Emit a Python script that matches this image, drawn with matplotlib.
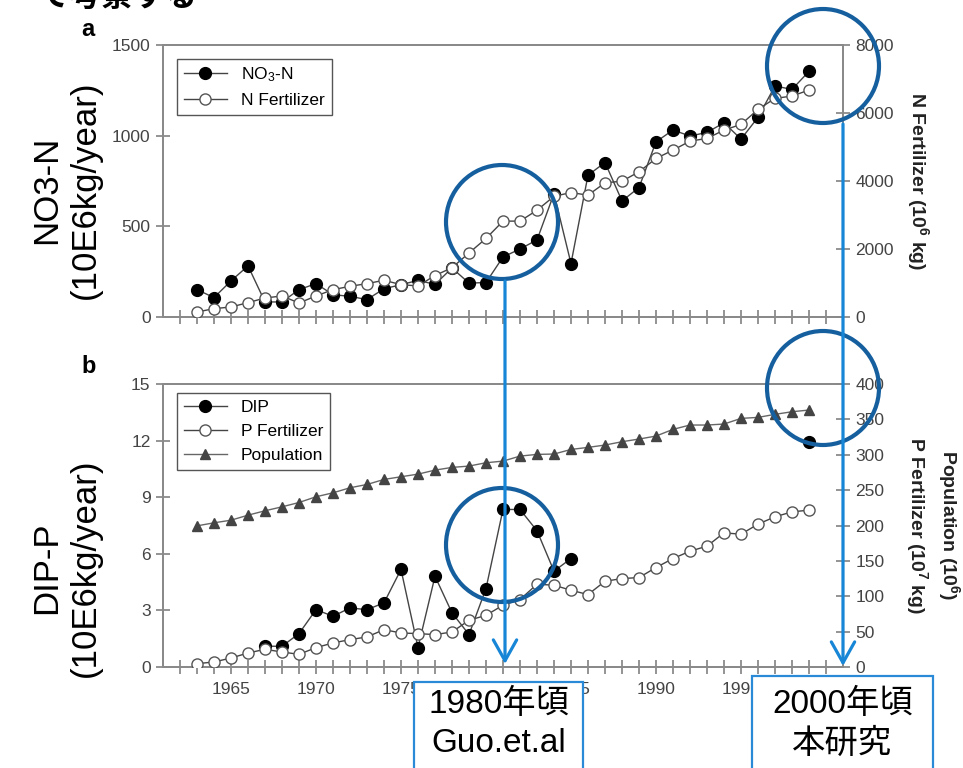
import numpy as np
import matplotlib
matplotlib.use('Agg')
import matplotlib.pyplot as plt
from matplotlib.patches import Ellipse, Rectangle, FancyArrowPatch

plt.rcParams['font.family'] = ['Liberation Sans', 'Noto Sans CJK JP', 'DejaVu Sans']
plt.rcParams['mathtext.default'] = 'regular'

# data (1963-1999)
years = np.arange(1963, 2000)
no3_n = [151, 107, 199, 282, 83, 83, 151, 184, 123, 114, 96, 156, 178, 202, 180, 270, 187, 190,
         331, 375, 425, 680, 295, 782, 852, 640, 714, 966, 1031, 998, 1018, 1071, 981, 1101,
         1274, 1255, 1355]
n_fert = [147, 245, 295, 422, 560, 618, 412, 618, 805, 903, 982, 1080, 952, 913, 1220, 1450,
          1882, 2310, 2820, 2820, 3140, 3550, 3660, 3583, 3946, 3995, 4270, 4663, 4908, 5173,
          5252, 5497, 5664, 6106, 6430, 6498, 6675]
nan = np.nan
dip = [nan, nan, nan, nan, 1.10, 1.10, 1.77, 3.04, 2.69, 3.13, 3.04, 3.40, 5.17, 1.03, 4.81,
       2.87, 1.72, 4.16, 8.35, 8.35, 7.22, 5.08, 5.75, nan, nan, nan, nan, nan, nan, nan, nan,
       nan, nan, nan, nan, nan, 11.94]
p_fert = [4.7, 7.1, 12.7, 19.8, 25, 21.2, 17.9, 27.4, 34.0, 38.7, 42.5, 52.8, 48.1, 47.2, 45.8,
          49.5, 66.0, 73.1, 87.3, 95.3, 117.0, 115.6, 108.5, 102.4, 121.2, 125.0, 126.4, 140.6,
          153.3, 163.7, 170.8, 189.6, 187.7, 201.9, 212.3, 219.3, 221.7]
population = [199.5, 203.8, 207.5, 214.6, 220.8, 226.4, 232.5, 240.6, 246.2, 253.3, 258.0,
              265.1, 268.9, 272.6, 278.3, 282.1, 284.0, 288.7, 291.0, 298.1, 300.5, 301.0,
              307.5, 310.4, 313.7, 318.4, 322.2, 326.4, 335.9, 342.0, 342.0, 343.4, 351.4,
              352.8, 357.1, 360.8, 363.2]

W, H = 963, 768
def fx(x):
    return x / W
def fy(y):
    return 1 - y / H

fig = plt.figure(figsize=(W / 100, H / 100), dpi=100)
fig.patch.set_facecolor('white')

axa = fig.add_axes([fx(163), fy(317), 680 / W, 272 / H])
axb = fig.add_axes([fx(163), fy(667), 680 / W, 283 / H])
axa2 = axa.twinx()
axb2 = axb.twinx()

for ax in (axa, axb, axa2, axb2):
    for s in ax.spines.values():
        s.set_color('#8a8a8a')
        s.set_linewidth(1.4)
    ax.tick_params(which='both', direction='inout', length=10, width=1.1, color='#777',
                   labelsize=12.5, labelcolor='#444', pad=4)
    ax.set_xlim(1961, 2001)
    ax.set_xticks(range(1965, 2000, 5))
    ax.set_xticks(range(1962, 2001), minor=True)

axa.tick_params(axis='x', which='both', labelbottom=False)
axb.set_xticklabels([str(y) for y in range(1965, 2000, 5)])
axb.tick_params(axis='x', pad=6)

line_kw = dict(color='#444', lw=1.0)
filled = dict(marker='o', ms=8.5, mfc='black', mec='black')
hollow = dict(marker='o', ms=8, mfc='white', mec='#555', mew=1.0)

# panel a
l1, = axa.plot(years, no3_n, zorder=4, **line_kw, **filled)
l2, = axa2.plot(years, n_fert, zorder=3, **line_kw, **hollow)
axa.set_ylim(0, 1500)
axa.set_yticks([0, 500, 1000, 1500])
axa2.set_ylim(0, 8000)
axa2.set_yticks(range(0, 8001, 2000))
axa2.set_ylabel('N Fertilizer (10$^6$ kg)', rotation=270, fontweight='bold', fontsize=14,
                color='#222', ha='center', va='center')
axa2.yaxis.set_label_coords((918 - 163) / 680, 0.5)
axa2.legend([l1, l2], ['NO$_3$-N', 'N Fertilizer'], loc='upper left',
            bbox_to_anchor=(0.02, 0.95), borderaxespad=0, fontsize=12.5, frameon=True,
            fancybox=False, edgecolor='#555', framealpha=1, handlelength=2.5)

# panel b
d1, = axb.plot(years, dip, zorder=4, **line_kw, **filled)
d2, = axb2.plot(years, p_fert, zorder=3, **line_kw, **hollow)
d3, = axb2.plot(years, population, marker='^', ms=7, mfc='#444', mec='#444', color='#666',
                lw=1.0, zorder=3)
axb.set_ylim(0, 15)
axb.set_yticks(range(0, 16, 3))
axb2.set_ylim(0, 400)
axb2.set_yticks(range(0, 401, 50))
axb2.set_ylabel('Population (10$^6$)\nP Fertilizer (10$^7$ kg)', rotation=270,
                fontweight='bold', fontsize=14, color='#222', ha='center', va='center',
                multialignment='center', linespacing=1.3)
axb2.yaxis.set_label_coords((933 - 163) / 680, 0.5)
axb2.legend([d1, d2, d3], ['DIP', 'P Fertilizer', 'Population'], loc='upper left',
            bbox_to_anchor=(0.02, 0.968), borderaxespad=0, fontsize=12.5, frameon=True,
            fancybox=False, edgecolor='#555', framealpha=1, handlelength=2.5)

# panel letters and slide labels
fig.text(fx(88), fy(30), 'a', fontsize=17, fontweight='bold', ha='center', va='center')
fig.text(fx(89), fy(367), 'b', fontsize=17, fontweight='bold', ha='center', va='center')
fig.text(fx(66), fy(190), 'NO3-N\n(10E6kg/year)', rotation=90, fontsize=25,
         ha='center', va='center', multialignment='center')
fig.text(fx(66), fy(568), 'DIP-P\n(10E6kg/year)', rotation=90, fontsize=25,
         ha='center', va='center', multialignment='center')
fig.text(fx(38), fy(6), 'て考察する', fontsize=23, fontweight='bold',
         family=['Noto Sans CJK JP'], ha='left', va='baseline')

# highlight rings
ring = '#155f9f'
for cx, cy in [(502, 222), (823, 66), (502, 545), (823, 388)]:
    fig.add_artist(Ellipse((fx(cx), fy(cy)), 112 / W, 114 / H, transform=fig.transFigure,
                           fill=False, ec=ring, lw=3.0, zorder=8))

# arrows
arrow_c = '#1786d6'
for x0, y0, y1 in [(505, 281, 664), (843, 124, 666)]:
    fig.add_artist(FancyArrowPatch((fx(x0), fy(y0)), (fx(x0), fy(y1)),
                                   transform=fig.transFigure,
                                   arrowstyle='->,head_length=0.75,head_width=0.42',
                                   mutation_scale=20, color=arrow_c, lw=2.3,
                                   shrinkA=0, shrinkB=0, zorder=9))

# note boxes
box_c = '#2a8ad8'
for x0, x1, top, txt in [(414, 583, 682, '1980年頃\nGuo.et.al'),
                         (752, 933, 676, '2000年頃\n本研究')]:
    fig.add_artist(Rectangle((fx(x0), fy(775)), (x1 - x0) / W, (775 - top) / H,
                             transform=fig.transFigure, fc='white', ec=box_c, lw=1.6,
                             zorder=10))
    fig.text(fx((x0 + x1) / 2), fy(724), txt, fontsize=24, ha='center', va='center',
             multialignment='center', linespacing=1.35, zorder=11)

fig.savefig('out.png', dpi=100, facecolor=fig.get_facecolor())
